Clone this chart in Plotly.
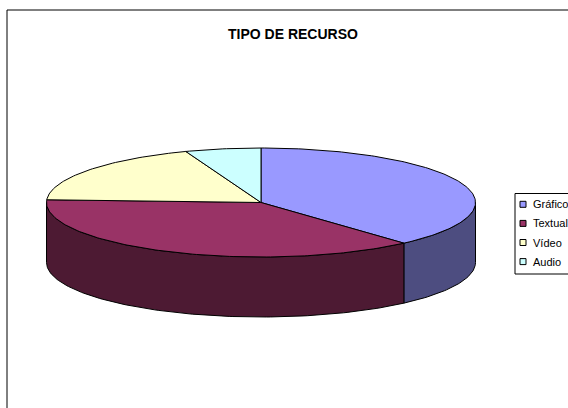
import numpy as np
import plotly.graph_objects as go

categories = ["Gráfico", "Textual", "Vídeo", "Audio"]
values = [38.4, 37.4, 18.5, 5.7]
top_colors = ["#9999FF", "#993366", "#FFFFCC", "#CCFFFF"]
side_colors = ["#4D4D80", "#4D1A33", "#808066", "#668080"]
title_text = "TIPO DE RECURSO"

W, H = 568, 408
cx, cy, rx, ry, depth = 261, 202.5, 214.5, 54.5, 60


def arc(t1, t2, dy=0, n=None):
    if n is None:
        n = max(int(abs(t2 - t1)), 2) + 1
    t = np.radians(np.linspace(t1, t2, n))
    return list(cx + rx * np.sin(t)), list(cy - ry * np.cos(t) + dy)


total = sum(values)
angles = [0]
for v in values:
    angles.append(angles[-1] + 360 * v / total)

fig = go.Figure()

# side walls (front half: 90..270 deg clockwise from north)
for i, name in enumerate(categories):
    a, b = max(angles[i], 90), min(angles[i + 1], 270)
    if a < b:
        xt, yt = arc(a, b)
        xb, yb = arc(b, a, depth)
        fig.add_trace(go.Scatter(
            x=xt + xb + [xt[0]], y=yt + yb + [yt[0]], mode="lines", fill="toself",
            fillcolor=side_colors[i], line=dict(color="black", width=1),
            showlegend=False, hoverinfo="skip"))

# top faces
for i, name in enumerate(categories):
    xs, ys = arc(angles[i], angles[i + 1])
    fig.add_trace(go.Scatter(
        x=[cx] + xs + [cx], y=[cy] + ys + [cy], mode="lines", fill="toself",
        fillcolor=top_colors[i], line=dict(color="black", width=1),
        name=name, showlegend=False, hoverinfo="skip"))

shapes = [dict(type="rect", xref="x", yref="y", x0=7, y0=10, x1=620, y1=460,
               line=dict(color="black", width=1), fillcolor="rgba(0,0,0,0)", layer="below")]
annotations = [dict(text="<b>" + title_text + "</b>", x=293, y=34, xref="x", yref="y",
                    showarrow=False, font=dict(family="Liberation Sans, Arial", size=14, color="black"),
                    xanchor="center", yanchor="middle")]

# legend (manual)
lx, ly0, lstep = 515, 204.3, 19.1
shapes.append(dict(type="rect", xref="x", yref="y", x0=lx, y0=193.5, x1=lx + 120, y1=274,
                   line=dict(color="black", width=1), fillcolor="white"))
for i, name in enumerate(categories):
    yc = ly0 + i * lstep
    shapes.append(dict(type="rect", xref="x", yref="y", x0=520, y0=yc - 3, x1=526, y1=yc + 3,
                       line=dict(color="black", width=1), fillcolor=top_colors[i]))
    annotations.append(dict(text=name, x=530.5, y=yc, xref="x", yref="y", showarrow=False,
                            xanchor="left", yanchor="middle",
                            font=dict(family="Liberation Sans, Arial", size=11, color="black")))

fig.update_layout(
    width=W, height=H, margin=dict(l=0, r=0, t=0, b=0),
    paper_bgcolor="white", plot_bgcolor="white",
    xaxis=dict(range=[0, W], visible=False, fixedrange=True),
    yaxis=dict(range=[H, 0], visible=False, fixedrange=True),
    shapes=shapes, annotations=annotations, showlegend=False,
)

fig.write_html("out.html", config={"displayModeBar": False},
               post_script="document.body.style.margin='0';document.body.style.overflow='hidden';")
